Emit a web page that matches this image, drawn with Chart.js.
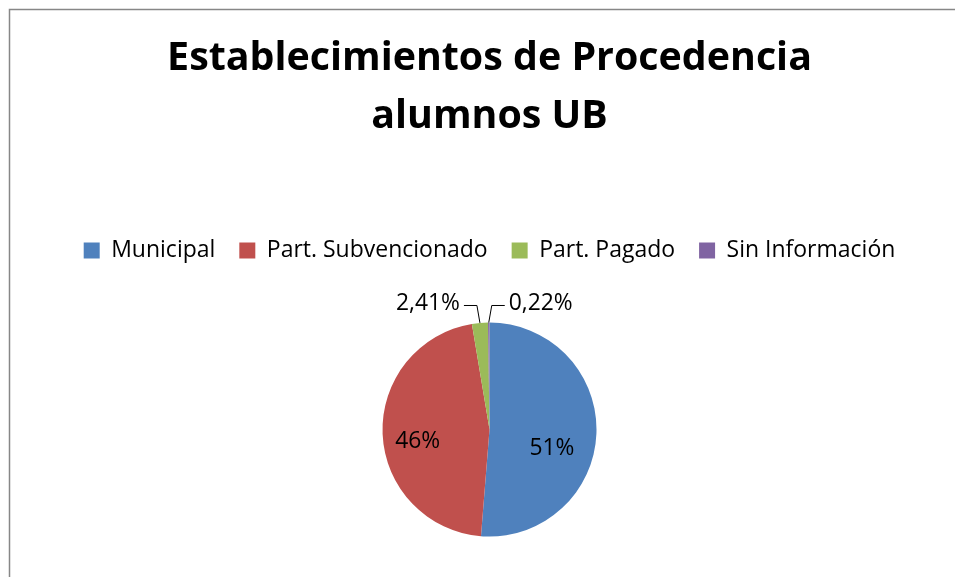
<!DOCTYPE html>
<html>
<head>
<meta charset="utf-8">
<script src="https://cdn.jsdelivr.net/npm/chart.js@4"></script>
<style>
  html, body { margin: 0; padding: 0; background: #fff; }
  #wrap { position: relative; width: 955px; height: 577px; overflow: hidden; }
  canvas { display: block; }
</style>
</head>
<body>
<div id="wrap"><canvas id="c" width="955" height="597"></canvas></div>
<script>
// ---- data ----
const titleLines = ['Establecimientos de Procedencia', 'alumnos UB'];
const categories = ['Municipal', 'Part. Subvencionado', 'Part. Pagado', 'Sin Información'];
const shares = [51.27, 46.10, 2.41, 0.22];
const labelTexts = ['51%', '46%', '2,41%', '0,22%'];
const colors = ['#4F81BD', '#C0504D', '#9BBB59', '#8064A2'];

// ---- font fitting (match widths of the original Calibri text) ----
const FAMILY = "'Open Sans', 'DejaVu Sans', sans-serif";
const mctx = document.createElement('canvas').getContext('2d');
function fit(texts, weight, target) {
  mctx.font = weight + ' 100px ' + FAMILY;
  let w = 0;
  texts.forEach(t => w += mctx.measureText(t).width);
  return 100 * target / w;
}
const titleSize = fit([titleLines[0]], 'bold', 645);
const legendSize = fit(categories, 'normal', 630);
const labelSize = fit(['51%'], 'normal', 45);

const pieLabels = {
  id: 'pieLabels',
  beforeDraw(chart) {
    const ctx = chart.ctx;
    ctx.save();
    ctx.fillStyle = '#fff';
    ctx.fillRect(0, 0, chart.width, chart.height);
    ctx.strokeStyle = '#878787';
    ctx.lineWidth = 1.5;
    ctx.beginPath();
    ctx.moveTo(9.5, chart.height + 5);
    ctx.lineTo(9.5, 9.5);
    ctx.lineTo(chart.width + 5, 9.5);
    ctx.stroke();
    ctx.restore();
  },
  afterDatasetsDraw(chart, args, opts) {
    const ctx = chart.ctx;
    const meta = chart.getDatasetMeta(0);
    ctx.save();
    ctx.fillStyle = '#000';
    ctx.strokeStyle = '#000';
    ctx.lineWidth = 1;
    ctx.font = 'normal ' + labelSize + 'px ' + FAMILY;
    ctx.textBaseline = 'middle';
    meta.data.forEach((el, i) => {
      const p = el.getProps(['x', 'y', 'startAngle', 'endAngle', 'outerRadius'], true);
      const mid = (p.startAngle + p.endAngle) / 2;
      const pl = opts.placement[i];
      if (pl.inside) {
        const a = mid + pl.dAngle * Math.PI / 180;
        const d = pl.dist * p.outerRadius;
        ctx.textAlign = 'center';
        ctx.fillText(labelTexts[i], p.x + Math.cos(a) * d, p.y + Math.sin(a) * d);
      } else {
        const sx = p.x + Math.cos(mid) * p.outerRadius;
        const sy = p.y + Math.sin(mid) * p.outerRadius;
        const ey = p.y - p.outerRadius - 17;
        const ex = sx + pl.dir * 3;
        const hx = ex + pl.dir * 13;
        ctx.beginPath();
        ctx.moveTo(sx, sy);
        ctx.lineTo(ex, ey);
        ctx.lineTo(hx, ey);
        ctx.stroke();
        ctx.textAlign = pl.dir < 0 ? 'right' : 'left';
        ctx.fillText(labelTexts[i], hx + pl.dir * 4, ey - 2);
      }
    });
    ctx.restore();
  }
};

new Chart(document.getElementById('c'), {
  type: 'pie',
  data: {
    labels: categories,
    datasets: [{
      data: shares,
      backgroundColor: colors,
      borderWidth: 0,
      radius: 107
    }]
  },
  options: {
    responsive: false,
    animation: false,
    events: [],
    layout: { padding: { left: 24, right: 0, top: 0, bottom: 10 } },
    plugins: {
      title: {
        display: true,
        text: titleLines,
        color: '#000',
        font: { family: FAMILY, size: titleSize, weight: 'bold', lineHeight: 58.5 / titleSize },
        padding: { top: 29.5, bottom: 68.5 }
      },
      legend: {
        display: true,
        position: 'top',
        labels: {
          color: '#000',
          boxWidth: 16,
          boxHeight: 16,
          padding: 24,
          font: { family: FAMILY, size: legendSize }
        }
      },
      tooltip: { enabled: false },
      pieLabels: {
        placement: [
          { inside: true, dAngle: 14.7, dist: 0.61 },
          { inside: true, dAngle: -7, dist: 0.68 },
          { inside: false, dir: -1 },
          { inside: false, dir: 1 }
        ]
      }
    }
  },
  plugins: [pieLabels]
});
</script>
</body>
</html>
